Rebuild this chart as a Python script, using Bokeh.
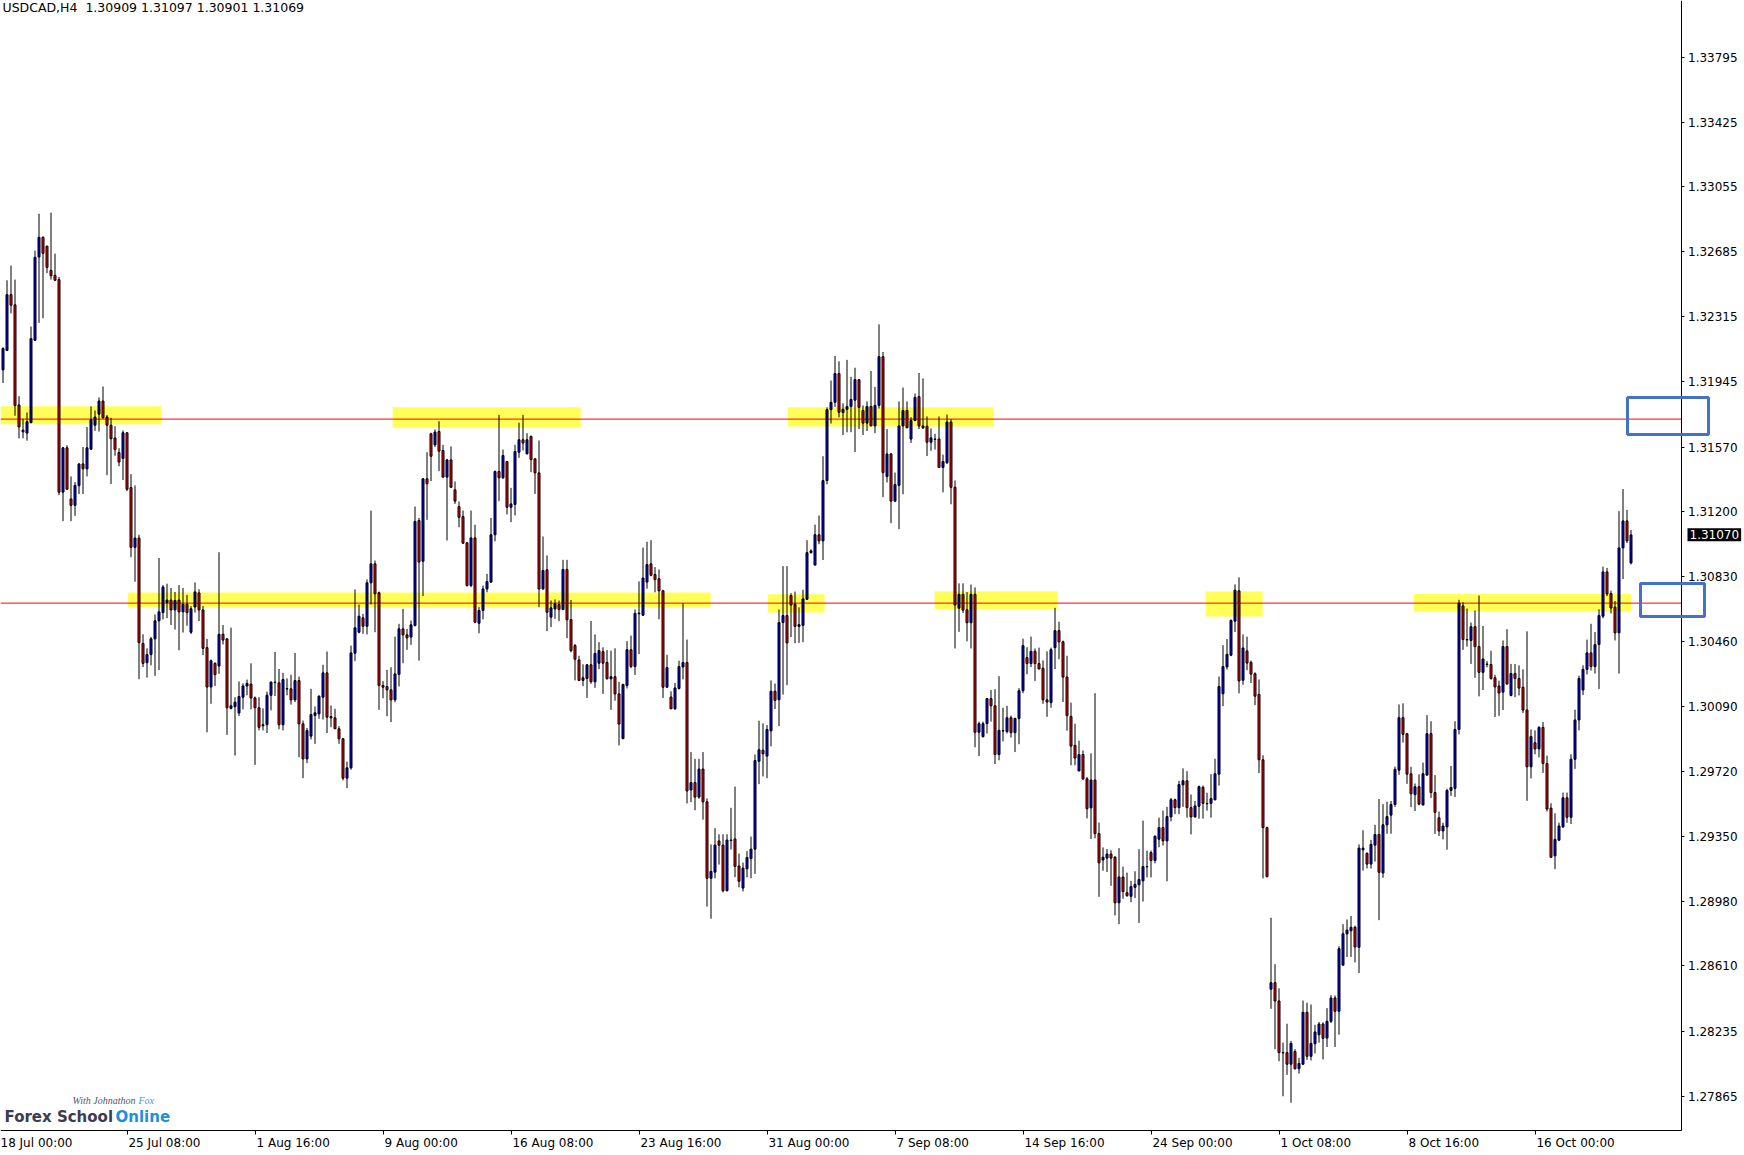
from bokeh.plotting import figure
from bokeh.models import (ColumnDataSource, FixedTicker, BoxAnnotation, Label,
                          LinearAxis, Range1d, PrintfTickFormatter)
from bokeh.embed import file_html
from bokeh.resources import INLINE

# ---------------- data (USDCAD H4) ----------------
opens = [
 1.32011,1.32122,1.32440,1.32382,1.31811,1.31667,1.31650,1.31710,1.32180,1.32655,
 1.32767,1.32717,1.32578,1.32550,1.32526,1.31313,1.31566,1.31274,1.31238,1.31350,
 1.31474,1.31446,1.31558,1.31695,1.31758,1.31833,1.31742,1.31695,1.31622,1.31539,
 1.31506,1.31652,1.31339,1.30998,1.31051,1.30450,1.30340,1.30386,1.30476,1.30579,
 1.30626,1.30684,1.30697,1.30641,1.30697,1.30630,1.30673,1.30514,1.30658,1.30738,
 1.30641,1.30426,1.30201,1.30336,1.30321,1.30502,1.30476,1.30079,1.30089,1.30053,
 1.30143,1.30207,1.30218,1.30139,1.30083,1.29980,1.29986,1.30154,1.30229,1.30225,
 1.29986,1.30192,1.30191,1.30128,1.30238,1.29991,1.29791,1.29921,1.30039,1.30048,
 1.30143,1.30282,1.30033,1.30025,1.29963,1.29906,1.29681,1.29740,1.30394,1.30514,
 1.30596,1.30548,1.30796,1.30904,1.30739,1.30210,1.30204,1.30185,1.30128,1.30273,
 1.30533,1.30499,1.30486,1.30552,1.31151,1.30919,1.31389,1.31646,1.31583,1.31659,
 1.31551,1.31399,1.31497,1.31326,1.31231,1.31174,1.31024,1.30780,1.31052,1.30565,
 1.30638,1.30761,1.30800,1.31070,1.31431,1.31395,1.31488,1.31227,1.31243,1.31541,
 1.31612,1.31532,1.31631,1.31503,1.31423,1.30761,1.30870,1.30600,1.30647,1.30672,
 1.30643,1.30872,1.30586,1.30438,1.30356,1.30239,1.30250,1.30328,1.30231,1.30337,
 1.30403,1.30341,1.30248,1.30260,1.30162,1.29907,1.30210,1.30414,1.30318,1.30619,
 1.30611,1.30800,1.30904,1.30843,1.30819,1.30750,1.30200,1.30144,1.30077,1.30193,
 1.30316,1.30341,1.29614,1.29656,1.29573,1.29733,1.29546,1.29110,1.29145,1.29323,
 1.29299,1.29039,1.29328,1.29334,1.29180,1.29054,1.29164,1.29222,1.29276,1.29778,
 1.29840,1.29807,1.29951,1.30177,1.30129,1.30569,1.30609,1.30723,1.30673,1.30547,
 1.30553,1.30702,1.30968,1.30897,1.31070,1.31035,1.31379,1.31784,1.31826,1.31990,
 1.31768,1.31786,1.31802,1.31838,1.31955,1.31779,1.31707,1.31802,1.31691,1.31808,
 1.32086,1.31402,1.31531,1.31262,1.31352,1.31691,1.31779,1.31616,1.31722,1.31858,
 1.31691,1.31689,1.31598,1.31616,1.31616,1.31454,1.31481,1.31713,1.31341,1.30651,
 1.30730,1.30642,1.30568,1.30730,1.29943,1.29918,1.29992,1.30135,1.30094,1.29816,
 1.29952,1.29947,1.30026,1.29941,1.30022,1.30180,1.30369,1.30335,1.30405,1.30335,
 1.30308,1.30128,1.30112,1.30426,1.30523,1.30459,1.30258,1.30033,1.29868,1.29722,
 1.29816,1.29677,1.29512,1.29670,1.29365,1.29214,1.29225,1.29248,1.29230,1.28970,
 1.29117,1.29027,1.29007,1.29058,1.29073,1.29095,1.29177,1.29256,1.29211,1.29333,
 1.29399,1.29323,1.29460,1.29558,1.29513,1.29643,1.29666,1.29513,1.29460,1.29521,
 1.29629,1.29537,1.29537,1.29558,1.29704,1.30163,1.30316,1.30383,1.30577,1.30750,
 1.30240,1.30407,1.30342,1.30277,1.30159,1.29786,1.29399,1.28477,1.28514,1.28410,
 1.28115,1.28115,1.28049,1.28121,1.28023,1.28049,1.28345,1.28094,1.28166,1.28217,
 1.28278,1.28198,1.28294,1.28427,1.28351,1.28614,1.28793,1.28810,1.28830,1.28716,
 1.29272,1.29252,1.29191,1.29299,1.29360,1.29140,1.29415,1.29470,1.29531,1.29727,
 1.30026,1.29935,1.29706,1.29587,1.29632,1.29528,1.29699,1.29935,1.29599,1.29455,
 1.29380,1.29403,1.29611,1.29623,1.29959,1.30664,1.30472,1.30467,1.30545,1.30432,
 1.30285,1.30332,1.30330,1.30254,1.30207,1.30172,1.30432,1.30153,1.30278,1.30250,
 1.30200,1.30070,1.29746,1.29883,1.29848,1.29971,1.29765,1.29510,1.29238,1.29327,
 1.29403,1.29569,1.29458,1.29789,1.30013,1.30184,1.30302,1.30396,1.30318,1.30444,
 1.30605,1.30858,1.30735,1.30657,1.30510,1.30995,1.31149,1.30909]

highs = [
 1.32140,1.32522,1.32606,1.32526,1.31861,1.31732,1.31768,1.32258,1.32691,1.32902,
 1.32773,1.32717,1.32908,1.32674,1.32541,1.31571,1.31581,1.31403,1.31371,1.31478,
 1.31571,1.31685,1.31803,1.31779,1.31854,1.31916,1.31753,1.31738,1.31689,1.31564,
 1.31665,1.31652,1.31416,1.31352,1.31070,1.30502,1.30422,1.30487,1.30615,1.30937,
 1.30783,1.30791,1.30766,1.30744,1.30783,1.30766,1.30727,1.30663,1.30798,1.30759,
 1.30663,1.30476,1.30358,1.30343,1.30970,1.30555,1.30480,1.30540,1.30143,1.30233,
 1.30222,1.30244,1.30336,1.30147,1.30143,1.30079,1.30175,1.30233,1.30401,1.30304,
 1.30282,1.30250,1.30271,1.30396,1.30261,1.30010,1.29968,1.30191,1.30090,1.30153,
 1.30328,1.30404,1.30096,1.30077,1.29978,1.29909,1.29776,1.30438,1.30758,1.30672,
 1.30619,1.30815,1.31208,1.30923,1.30746,1.30235,1.30299,1.30314,1.30489,1.30562,
 1.30647,1.30533,1.30581,1.31231,1.31166,1.31393,1.31541,1.31652,1.31671,1.31718,
 1.31583,1.31503,1.31574,1.31374,1.31260,1.31208,1.31028,1.31208,1.31127,1.30657,
 1.30780,1.30847,1.31166,1.31437,1.31754,1.31556,1.31488,1.31338,1.31583,1.31709,
 1.31754,1.31650,1.31636,1.31507,1.31608,1.31060,1.30952,1.30695,1.30701,1.30695,
 1.30927,1.30927,1.30698,1.30447,1.30380,1.30331,1.30331,1.30578,1.30501,1.30457,
 1.30428,1.30412,1.30409,1.30422,1.30231,1.30220,1.30463,1.30495,1.30644,1.30804,
 1.30997,1.31030,1.31039,1.30885,1.30872,1.30756,1.30385,1.30177,1.30225,1.30351,
 1.30679,1.30472,1.29830,1.29791,1.29791,1.29830,1.29566,1.29303,1.29396,1.29361,
 1.29361,1.29361,1.29512,1.29633,1.29251,1.29199,1.29265,1.29348,1.29816,1.30009,
 1.29994,1.29984,1.30239,1.30221,1.30644,1.30891,1.30891,1.30737,1.30746,1.30656,
 1.30756,1.31039,1.30987,1.31128,1.31180,1.31518,1.31797,1.31950,1.32090,1.32060,
 1.31820,1.32068,1.31971,1.32023,1.31955,1.31808,1.31831,1.32005,1.31914,1.32271,
 1.32113,1.31673,1.31537,1.31425,1.31831,1.31910,1.31831,1.31741,1.31876,1.31993,
 1.31962,1.31745,1.31677,1.31646,1.31745,1.31527,1.31756,1.31729,1.31380,1.30793,
 1.30793,1.30743,1.30786,1.30770,1.30004,1.30004,1.30139,1.30184,1.30189,1.30263,
 1.30083,1.30094,1.30038,1.30026,1.30195,1.30477,1.30428,1.30489,1.30421,1.30426,
 1.30353,1.30405,1.30426,1.30653,1.30574,1.30466,1.30380,1.30112,1.29992,1.29895,
 1.29839,1.29688,1.29823,1.30166,1.29428,1.29286,1.29277,1.29270,1.29237,1.29282,
 1.29176,1.29142,1.29095,1.29150,1.29276,1.29439,1.29268,1.29268,1.29354,1.29456,
 1.29496,1.29517,1.29568,1.29564,1.29666,1.29737,1.29721,1.29588,1.29551,1.29639,
 1.29639,1.29598,1.29704,1.29792,1.30261,1.30440,1.30475,1.30587,1.30787,1.30827,
 1.30501,1.30489,1.30352,1.30285,1.30244,1.29812,1.29405,1.28885,1.28620,1.28482,
 1.28172,1.28280,1.28182,1.28135,1.28086,1.28412,1.28400,1.28390,1.28274,1.28290,
 1.28288,1.28369,1.28443,1.28441,1.28722,1.28848,1.28875,1.28895,1.28840,1.29303,
 1.29384,1.29258,1.29329,1.29415,1.29562,1.29533,1.29547,1.29551,1.29747,1.30102,
 1.30108,1.29939,1.29746,1.29651,1.29703,1.29770,1.30041,1.30006,1.29699,1.29491,
 1.29427,1.29621,1.29751,1.30006,1.30699,1.30685,1.30649,1.30569,1.30638,1.30723,
 1.30550,1.30349,1.30408,1.30271,1.30238,1.30467,1.30531,1.30333,1.30333,1.30325,
 1.30302,1.30519,1.29959,1.29954,1.29978,1.30001,1.29810,1.29538,1.29481,1.29427,
 1.29599,1.29599,1.29817,1.30072,1.30266,1.30325,1.30472,1.30562,1.30515,1.30645,
 1.30888,1.30881,1.30751,1.30692,1.31205,1.31331,1.31212,1.31097]

lows = [
 1.31936,1.32118,1.32333,1.31749,1.31620,1.31620,1.31607,1.31706,1.32176,1.32279,
 1.32305,1.32563,1.32526,1.32522,1.31296,1.31148,1.31328,1.31148,1.31178,1.31302,
 1.31302,1.31403,1.31558,1.31663,1.31659,1.31732,1.31410,1.31360,1.31521,1.31461,
 1.31382,1.31319,1.30942,1.30802,1.30246,1.30315,1.30255,1.30325,1.30265,1.30298,
 1.30587,1.30594,1.30555,1.30529,1.30411,1.30512,1.30551,1.30504,1.30626,1.30577,
 1.30383,1.29943,1.30106,1.30207,1.30276,1.30444,1.29928,1.30074,1.29810,1.30036,
 1.30074,1.30154,1.30074,1.29757,1.29954,1.29954,1.29939,1.30068,1.30150,1.29960,
 1.29954,1.30154,1.30101,1.30115,1.29801,1.29681,1.29767,1.29902,1.29877,1.30020,
 1.30016,1.29938,1.29972,1.29963,1.29877,1.29668,1.29624,1.29729,1.30349,1.30508,
 1.30505,1.30501,1.30672,1.30514,1.30071,1.30137,1.30035,1.30001,1.30115,1.30204,
 1.30337,1.30413,1.30442,1.30547,1.30352,1.30720,1.31155,1.31376,1.31570,1.31433,
 1.31395,1.31037,1.31338,1.31246,1.31113,1.31018,1.30775,1.30771,1.30565,1.30508,
 1.30587,1.30742,1.30796,1.31033,1.31262,1.31389,1.31186,1.31142,1.31180,1.31509,
 1.31551,1.31528,1.31427,1.31303,1.30657,1.30756,1.30520,1.30543,1.30590,1.30577,
 1.30642,1.30480,1.30399,1.30239,1.30235,1.30206,1.30139,1.30220,1.30196,1.30303,
 1.30162,1.30245,1.30071,1.30123,1.29868,1.29903,1.30193,1.30308,1.30270,1.30389,
 1.30607,1.30762,1.30833,1.30742,1.30588,1.30139,1.30196,1.30077,1.30071,1.30187,
 1.30245,1.29537,1.29544,1.29498,1.29564,1.29444,1.28948,1.28879,1.29110,1.29188,
 1.29029,1.29035,1.29274,1.29116,1.29058,1.29035,1.29116,1.29110,1.29135,1.29647,
 1.29691,1.29681,1.29863,1.30075,1.29978,1.30158,1.30212,1.30486,1.30451,1.30453,
 1.30457,1.30698,1.30962,1.30897,1.31016,1.30926,1.31358,1.31705,1.31800,1.31740,
 1.31639,1.31655,1.31655,1.31542,1.31673,1.31639,1.31662,1.31691,1.31650,1.31790,
 1.31285,1.31368,1.31136,1.31256,1.31102,1.31301,1.31680,1.31594,1.31718,1.31673,
 1.31673,1.31519,1.31549,1.31556,1.31452,1.31312,1.31474,1.31244,1.30421,1.30516,
 1.30624,1.30462,1.30421,1.29857,1.29807,1.29913,1.29936,1.30004,1.29762,1.29783,
 1.29891,1.29936,1.29913,1.29830,1.29875,1.30166,1.30274,1.30315,1.30236,1.30304,
 1.30105,1.30031,1.30083,1.30304,1.30360,1.30116,1.29952,1.29755,1.29755,1.29722,
 1.29670,1.29451,1.29334,1.29338,1.29004,1.29153,1.29146,1.29067,1.28898,1.28848,
 1.28993,1.29004,1.28973,1.28997,1.28855,1.28977,1.29115,1.29115,1.29195,1.29287,
 1.29297,1.29093,1.29435,1.29476,1.29476,1.29517,1.29456,1.29360,1.29456,1.29450,
 1.29450,1.29496,1.29456,1.29554,1.29639,1.30092,1.30301,1.30377,1.30515,1.30165,
 1.30214,1.30297,1.30224,1.30098,1.29710,1.29109,1.29115,1.28365,1.28135,1.28066,
 1.27866,1.27988,1.27829,1.28019,1.27995,1.28045,1.28074,1.28070,1.28111,1.28172,
 1.28076,1.28147,1.28284,1.28147,1.28217,1.28614,1.28661,1.28661,1.28630,1.28569,
 1.29154,1.29166,1.29166,1.29205,1.28871,1.29113,1.29364,1.29364,1.29517,1.29700,
 1.29884,1.29649,1.29516,1.29493,1.29526,1.29526,1.29694,1.29568,1.29363,1.29351,
 1.29332,1.29273,1.29580,1.29573,1.29931,1.30413,1.30432,1.30333,1.30254,1.30148,
 1.30184,1.30314,1.30243,1.30030,1.30037,1.30070,1.30214,1.30148,1.30143,1.30153,
 1.30053,1.29552,1.29680,1.29817,1.29800,1.29711,1.29491,1.29226,1.29162,1.29325,
 1.29398,1.29427,1.29420,1.29734,1.29954,1.30155,1.30273,1.30295,1.30278,1.30190,
 1.30593,1.30720,1.30621,1.30467,1.30278,1.30817,1.31023,1.30901]

closes = [
 1.32133,1.32440,1.32380,1.31807,1.31685,1.31657,1.31715,1.32189,1.32653,1.32767,
 1.32676,1.32595,1.32548,1.32522,1.31313,1.31566,1.31330,1.31238,1.31352,1.31474,
 1.31446,1.31566,1.31727,1.31742,1.31833,1.31738,1.31695,1.31618,1.31556,1.31485,
 1.31652,1.31330,1.30998,1.31051,1.30454,1.30336,1.30386,1.30476,1.30579,1.30630,
 1.30772,1.30697,1.30641,1.30695,1.30630,1.30673,1.30626,1.30648,1.30744,1.30641,
 1.30422,1.30201,1.30351,1.30272,1.30502,1.30469,1.30083,1.30094,1.30115,1.30147,
 1.30207,1.30222,1.30139,1.30083,1.29971,1.29986,1.30154,1.30229,1.30227,1.29986,
 1.30244,1.30190,1.30128,1.30238,1.29991,1.29791,1.29953,1.30044,1.30054,1.30149,
 1.30282,1.30029,1.30025,1.29963,1.29906,1.29681,1.29740,1.30396,1.30539,1.30605,
 1.30548,1.30796,1.30904,1.30733,1.30210,1.30200,1.30185,1.30128,1.30276,1.30533,
 1.30499,1.30482,1.30556,1.31146,1.30914,1.31389,1.31361,1.31518,1.31656,1.31547,
 1.31399,1.31497,1.31341,1.31262,1.31170,1.31022,1.30780,1.31052,1.30571,1.30638,
 1.30761,1.30803,1.31070,1.31431,1.31395,1.31522,1.31227,1.31246,1.31545,1.31612,
 1.31594,1.31612,1.31499,1.31423,1.30761,1.30866,1.30628,1.30653,1.30676,1.30643,
 1.30872,1.30585,1.30409,1.30360,1.30239,1.30254,1.30328,1.30231,1.30393,1.30409,
 1.30337,1.30248,1.30260,1.30162,1.29990,1.30216,1.30414,1.30318,1.30621,1.30623,
 1.30823,1.30900,1.30839,1.30814,1.30750,1.30200,1.30312,1.30077,1.30196,1.30318,
 1.30341,1.29608,1.29656,1.29573,1.29733,1.29546,1.29110,1.29149,1.29299,1.29299,
 1.29039,1.29328,1.29326,1.29178,1.29093,1.29168,1.29228,1.29276,1.29782,1.29843,
 1.29820,1.29959,1.30177,1.30125,1.30569,1.30609,1.30453,1.30669,1.30547,1.30557,
 1.30704,1.30968,1.30978,1.31070,1.31035,1.31379,1.31784,1.31826,1.31990,1.31769,
 1.31786,1.31802,1.31842,1.31955,1.31797,1.31707,1.31802,1.31691,1.31808,1.32086,
 1.31425,1.31531,1.31262,1.31357,1.31691,1.31779,1.31680,1.31722,1.31853,1.31691,
 1.31680,1.31598,1.31623,1.31614,1.31454,1.31488,1.31713,1.31341,1.30669,1.30730,
 1.30640,1.30568,1.30730,1.29943,1.29992,1.29992,1.30135,1.30094,1.29816,1.29954,
 1.29950,1.30026,1.29941,1.30022,1.30180,1.30437,1.30335,1.30405,1.30335,1.30304,
 1.30128,1.30116,1.30414,1.30523,1.30459,1.30258,1.30038,1.29864,1.29796,1.29816,
 1.29677,1.29507,1.29670,1.29365,1.29198,1.29230,1.29248,1.29225,1.28970,1.29117,
 1.29034,1.29011,1.29062,1.29075,1.29103,1.29177,1.29175,1.29211,1.29350,1.29399,
 1.29323,1.29462,1.29558,1.29513,1.29645,1.29666,1.29513,1.29460,1.29523,1.29633,
 1.29537,1.29535,1.29564,1.29706,1.30204,1.30318,1.30387,1.30581,1.30754,1.30236,
 1.30424,1.30338,1.30275,1.30149,1.29786,1.29399,1.29119,1.28514,1.28410,1.28115,
 1.28113,1.28049,1.28168,1.28023,1.28054,1.28345,1.28094,1.28168,1.28233,1.28278,
 1.28196,1.28294,1.28427,1.28351,1.28708,1.28793,1.28814,1.28830,1.28718,1.29282,
 1.29282,1.29191,1.29303,1.29360,1.29144,1.29415,1.29462,1.29531,1.29731,1.30026,
 1.29931,1.29704,1.29592,1.29632,1.29533,1.29706,1.29935,1.29599,1.29486,1.29380,
 1.29408,1.29611,1.29628,1.29959,1.30680,1.30472,1.30470,1.30545,1.30432,1.30285,
 1.30361,1.30330,1.30250,1.30202,1.30167,1.30432,1.30219,1.30278,1.30250,1.30195,
 1.30070,1.29746,1.29919,1.29848,1.29971,1.29765,1.29505,1.29230,1.29332,1.29408,
 1.29569,1.29458,1.29789,1.30013,1.30250,1.30302,1.30396,1.30318,1.30444,1.30609,
 1.30858,1.30732,1.30652,1.30510,1.30995,1.31149,1.31035,1.31069]

# time-axis labels (every 32 bars; the first one falls one bar before the first visible bar)
time_labels = ["18 Jul 00:00", "25 Jul 08:00", "1 Aug 16:00", "9 Aug 00:00", "16 Aug 08:00",
               "23 Aug 16:00", "31 Aug 00:00", "7 Sep 08:00", "14 Sep 16:00", "24 Sep 00:00",
               "1 Oct 08:00", "8 Oct 16:00", "16 Oct 00:00"]
time_label_bar = [-1 + 32 * k for k in range(len(time_labels))]

price_ticks = [1.33795, 1.33425, 1.33055, 1.32685, 1.32315, 1.31945, 1.31570, 1.31200,
               1.30830, 1.30460, 1.30090, 1.29720, 1.29350, 1.28980, 1.28610, 1.28235, 1.27865]

# support / resistance levels and marked zones (bar start, bar end, top, bottom)
level_prices = [1.31730, 1.30680]
zone_start = [-0.6, 31.2, 97.4, 191.2, 196.2, 232.9, 300.7, 352.7]
zone_end   = [39.7, 176.9, 144.4, 205.4, 247.7, 263.7, 314.9, 407.0]
zone_top   = [1.31803, 1.30741, 1.31798, 1.30731, 1.31797, 1.30748, 1.30746, 1.30732]
zone_bot   = [1.31700, 1.30655, 1.31680, 1.30626, 1.31688, 1.30646, 1.30604, 1.30632]

symbol = "USDCAD,H4"
bid_price = 1.31070

# ---------------- layout helpers (chart pixel -> data) ----------------
def ix(xpx):            # bar index at a horizontal pixel of the chart (bars sit on pixel centres)
    return (xpx - 2.5) / 4.0

def py(ypx):            # price at a vertical pixel of the chart
    return 1.341185 - ypx * 0.00005706

W, H = 1744, 1155
X0, X1 = ix(0), ix(W)
X_AXIS = ix(1680.5)
Y_TOP, Y_BOT = py(0), py(H)
Y_BORDER = py(1129.5)

FONT = "DejaVu Sans"

p = figure(width=W, height=H, x_range=Range1d(X0, X1), y_range=Range1d(Y_BOT, Y_TOP),
           x_axis_location=None, y_axis_location=None, toolbar_location=None,
           output_backend="svg", min_border=0, min_border_left=0, min_border_right=0,
           min_border_top=0, min_border_bottom=0, background_fill_color="white",
           border_fill_color="white", outline_line_color=None)
p.grid.visible = False

# zones
p.quad(left=zone_start, right=zone_end, top=zone_top, bottom=zone_bot,
       fill_color="#FFFF57", line_color=None)

# levels (run across the chart up to the price scale)
p.segment(x0=[X0] * len(level_prices), x1=[X_AXIS] * len(level_prices),
          y0=level_prices, y1=level_prices, line_color="#FF0000", line_width=1)

# candles
n = len(opens)
src = ColumnDataSource(dict(
    x=list(range(n)), h=highs, l=lows,
    top=[max(a, b) for a, b in zip(opens, closes)],
    bot=[min(a, b) for a, b in zip(opens, closes)],
    col=["#0000FF" if c >= o else "#FF0000" for o, c in zip(opens, closes)]))
p.segment(x0="x", y0="h", x1="x", y1="l", source=src, line_color="black", line_width=1)
p.vbar(x="x", width=0.5, top="top", bottom="bot", source=src, fill_color="col",
       line_color="black", line_width=1)

# price scale on the right
ya = LinearAxis(fixed_location=X_AXIS, bounds=(Y_BORDER, Y_TOP),
                ticker=FixedTicker(ticks=price_ticks),
                formatter=PrintfTickFormatter(format="%.5f"),
                major_tick_out=3, major_tick_in=0, minor_tick_out=0, minor_tick_in=0,
                major_label_standoff=4, axis_line_color="black", major_tick_line_color="black",
                major_label_text_font=FONT, major_label_text_font_size="12px",
                major_label_text_color="black")
p.add_layout(ya, "right")

# time scale: border line, tick marks (minor ticks at the true times) and left-aligned labels
cw = {"0": .636, "1": .636, "2": .636, "3": .636, "4": .636, "5": .636, "6": .636, "7": .636,
      "8": .636, "9": .636, " ": .318, ":": .337, "J": .295, "u": .634, "l": .278, "A": .684,
      "g": .635, "S": .635, "e": .615, "p": .635, "O": .787, "c": .550, "t": .392}
px_per_bar = 4.0
lab_pos = []
for t, s in zip(time_label_bar, time_labels):
    w = sum(cw.get(ch, 0.6) for ch in s) * 12
    lab_pos.append(round(t + (w / 2 + 1.5) / px_per_bar, 3))
xa = LinearAxis(fixed_location=Y_BORDER, bounds=(X0, X_AXIS),
                ticker=FixedTicker(ticks=lab_pos, minor_ticks=time_label_bar),
                major_label_overrides={lp: s for lp, s in zip(lab_pos, time_labels)},
                axis_line_color="black", major_tick_line_color=None,
                minor_tick_line_color="black", major_tick_out=0, major_tick_in=0,
                minor_tick_out=4, minor_tick_in=0, major_label_standoff=2,
                major_label_text_font=FONT, major_label_text_font_size="12px",
                major_label_text_color="black")
p.add_layout(xa, "below")

# title text
title_txt = "%s\u00a0 %.5f %.5f %.5f %.5f" % (symbol, opens[-1], highs[-1], lows[-1], closes[-1])
p.add_layout(Label(x=ix(2), y=py(-1), text=title_txt, text_font=FONT, text_font_size="12.5px",
                   text_color="black", text_baseline="top", text_align="left"))

# current price box on the price scale
p.add_layout(Label(x=ix(1687), y=bid_price, text="%.5f" % bid_price, text_font=FONT,
                   text_font_size="12px", text_color="white", text_baseline="middle",
                   text_align="left", background_fill_color="black", padding=2))

# blue rectangles at the right edge
for (l, r, t, b) in [(1627, 1708, 397, 434), (1640, 1704, 583, 616)]:
    p.add_layout(BoxAnnotation(left=ix(l), right=ix(r), top=py(t), bottom=py(b),
                               fill_color=None, fill_alpha=0, line_color="#4472C4",
                               line_alpha=1, line_width=3))

# logo
p.add_layout(Label(x=ix(72), y=py(1100), text="With Johnathon", text_font="Liberation Serif",
                   text_font_style="italic", text_font_size="10px", text_color="#555566",
                   text_baseline="alphabetic"))
p.add_layout(Label(x=ix(138), y=py(1100), text="Fox", text_font="Liberation Serif",
                   text_font_style="italic", text_font_size="10px", text_color="#3a9ad9",
                   text_baseline="alphabetic"))
p.add_layout(Label(x=ix(4), y=py(1116.5), text="Forex School", text_font=FONT,
                   text_font_style="bold", text_font_size="15px", text_color="#3b3d4f",
                   text_baseline="alphabetic"))
p.add_layout(Label(x=ix(115), y=py(1116.5), text="Online", text_font=FONT,
                   text_font_style="bold", text_font_size="15px", text_color="#1f8fdc",
                   text_baseline="alphabetic"))

open("out.html", "w").write(file_html(p, INLINE))
